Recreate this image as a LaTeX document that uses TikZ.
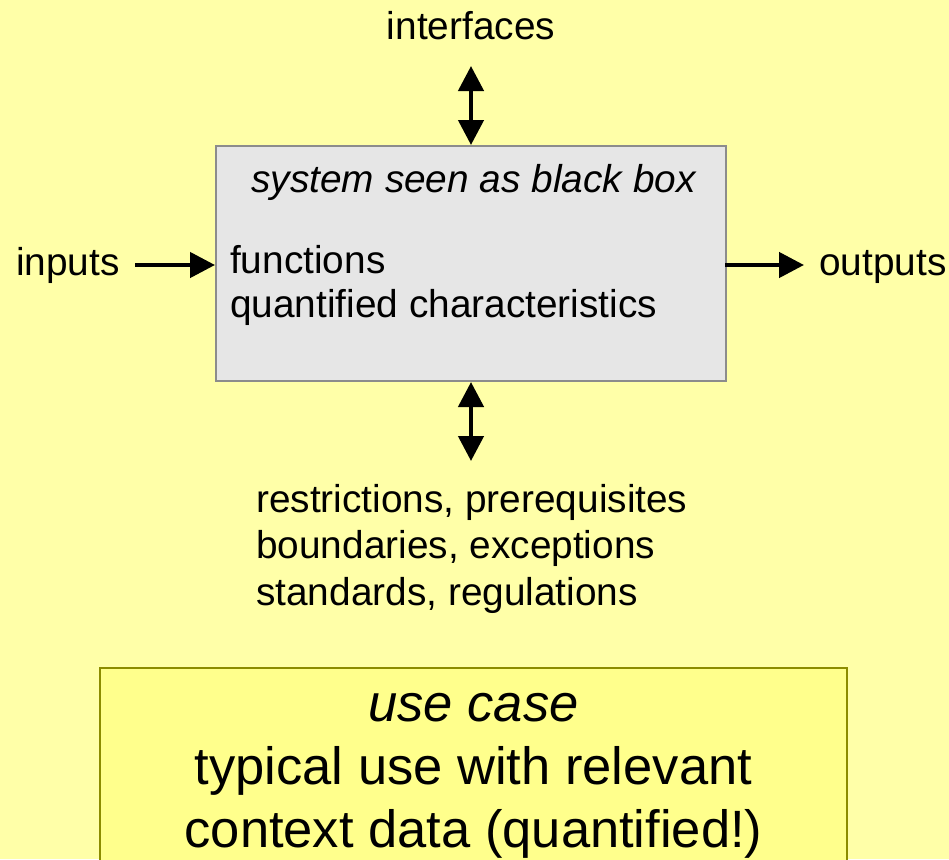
\documentclass[tikz,border=0pt]{standalone}
\usepackage{fontspec}
\setmainfont{Liberation Sans}
\usetikzlibrary{arrows.meta}
\definecolor{bg}{HTML}{FFFFA8}
\definecolor{boxfill}{HTML}{E6E6E6}
\definecolor{boxline}{HTML}{8C8C8C}
\definecolor{ucfill}{HTML}{FFFF8C}
\definecolor{ucline}{HTML}{8C8C00}
\tikzset{
  lbl/.style={font=\fontsize{38.8}{46}\selectfont, inner sep=0pt, text=black},
  biglbl/.style={font=\fontsize{52.5}{63}\selectfont, inner sep=0pt, text=black},
  arr/.style={line width=4.5pt, -{Triangle[length=25pt,width=25pt]}},
  darr/.style={line width=4.5pt, {Triangle[length=25pt,width=25pt]}-{Triangle[length=25pt,width=25pt]}},
  blackbox/.style={draw=boxline, fill=boxfill, line width=2pt, minimum width=510pt, minimum height=235pt, inner sep=0pt},
}
\begin{document}
\begin{tikzpicture}[x=1pt,y=-1pt]
\useasboundingbox (0,0) rectangle (949,859);
\fill[bg] (0,0) rectangle (949,859);
% main box
\node[blackbox] (box) at (471,263.5) {};
\node[lbl, anchor=base, font=\fontsize{38.8}{46}\selectfont\itshape] (title) at (473.5,192) {system seen as black box};
\node[lbl, anchor=base west, align=left, font=\fontsize{38.8}{44}\selectfont] (func) at (230,317) {functions\\quantified characteristics};
% labels
\node[lbl, anchor=base] (intf) at (471,40) {interfaces};
\node[lbl, anchor=base west] (inp) at (16,275) {inputs};
\node[lbl, anchor=base west] (outp) at (819,275) {outputs};
\node[lbl, anchor=base west, align=left, font=\fontsize{38.8}{46.5}\selectfont] (restr) at (256,605) {restrictions, prerequisites\\boundaries, exceptions\\standards, regulations};
% arrow end points
\coordinate (intftip) at (471,66);
\coordinate (restrtip) at (471,461);
\coordinate (inptail) at (135,265);
\coordinate (outptip) at (804,265);
\draw[darr] (intftip) -- (box.north);
\draw[darr] (box.south) -- (restrtip);
\draw[arr] (inptail) -- (inptail -| box.west);
\draw[arr] ([xshift=-2pt]outptip -| box.east) -- (outptip);
% use case box
\draw[draw=ucline, fill=ucfill, line width=2pt] (100,668) rectangle (847,900);
\node[biglbl, anchor=base, align=center] (uc) at (473.5,847) {\itshape use case\\typical use with relevant\\context data (quantified!)};
\end{tikzpicture}
\end{document}
